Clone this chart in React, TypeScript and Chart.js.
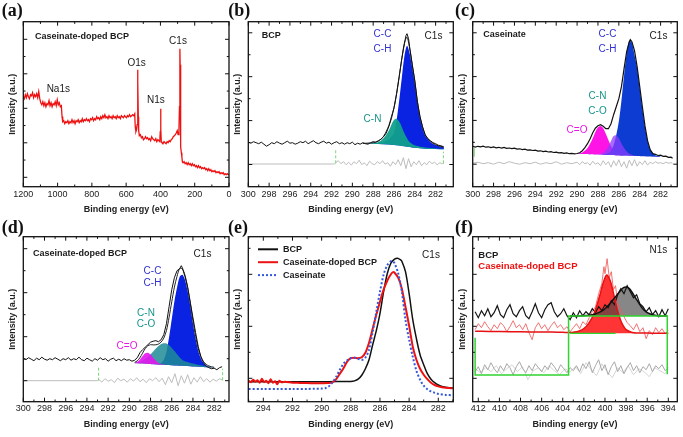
import React, { useEffect, useRef } from "react";
import { Chart, registerables } from "chart.js";

Chart.register(...registerables);

const SANS = "'Liberation Sans', Arial, Helvetica, sans-serif";
const SERIF = "'Liberation Serif', 'Times New Roman', serif";
Chart.defaults.font.family = SANS;

type Pt = [number, number];

// ---------------- (a) survey spectrum, caseinate-doped BCP ----------------
const surveyDoped: Pt[] = [
  [1200, 90], [1194, 88], [1188, 92], [1182, 89], [1176, 93], [1170, 90], [1164, 88], [1158, 92], [1152, 91], [1146, 94],
  [1140, 89], [1134, 92], [1128, 90], [1122, 93], [1116, 89], [1110, 95], [1104, 88], [1098, 84], [1092, 82], [1086, 85],
  [1080, 81], [1074, 84], [1068, 80], [1062, 83], [1056, 82], [1050, 86], [1044, 81], [1038, 84], [1032, 80], [1026, 83],
  [1020, 82], [1014, 85], [1008, 81], [1002, 87], [996, 82], [990, 84], [984, 80], [978, 81], [974, 70], [970, 65],
  [964, 66], [958, 63], [952, 65], [946, 64], [940, 66], [934, 63], [928, 65], [922, 64], [916, 67], [910, 64],
  [904, 66], [898, 63], [892, 66], [886, 65], [880, 67], [874, 64], [868, 66], [862, 65], [856, 68], [850, 65],
  [844, 67], [838, 66], [832, 68], [826, 66], [820, 67], [814, 65], [808, 68], [802, 67], [796, 69], [790, 66],
  [784, 68], [778, 67], [772, 70], [766, 68], [760, 69], [754, 67], [748, 70], [742, 68], [736, 71], [730, 69],
  [724, 72], [718, 69], [712, 70], [706, 68], [700, 71], [694, 69], [688, 70], [682, 68], [676, 71], [670, 69],
  [664, 70], [658, 68], [652, 71], [646, 69], [640, 70], [634, 68], [628, 71], [622, 70], [616, 69], [610, 71],
  [604, 70], [598, 69], [592, 71], [586, 70], [580, 72], [574, 70], [568, 71], [562, 72], [556, 71], [550, 73],
  [547, 60], [543, 55], [539, 57], [536, 62], [534, 80], [532, 117], [531, 105], [529, 70], [527, 56], [523, 51],
  [517, 52], [511, 49], [505, 50], [499, 47], [493, 48], [487, 50], [481, 48], [475, 49], [469, 47], [463, 48],
  [457, 46], [451, 50], [445, 48], [439, 47], [433, 46], [427, 48], [421, 45], [415, 47], [409, 46], [404, 45],
  [401, 55], [399, 78], [397, 58], [395, 45], [391, 44], [385, 43], [379, 45], [373, 44], [367, 43], [361, 45],
  [355, 44], [349, 46], [343, 45], [337, 47], [331, 48], [325, 50], [319, 51], [313, 52], [307, 54], [302, 56],
  [297, 52], [292, 57], [289, 80], [287, 125], [286, 138], [285, 122], [283, 70], [281, 40], [278, 34], [275, 30],
  [272, 25], [268, 24], [262, 25], [256, 23], [250, 24], [244, 22], [238, 24], [232, 22], [226, 23], [220, 21],
  [214, 23], [208, 21], [202, 22], [196, 20], [190, 21], [184, 19], [178, 21], [172, 19], [166, 20], [160, 18],
  [154, 19], [148, 18], [142, 19], [136, 17], [130, 18], [124, 16], [118, 18], [112, 16], [106, 17], [100, 15],
  [94, 16], [88, 15], [82, 16], [76, 14], [70, 15], [64, 14], [58, 15], [52, 13], [46, 14], [40, 13],
  [34, 14], [28, 12], [22, 13], [16, 12], [10, 13], [4, 12], [0, 12],
];

// ---------------- (b) C1s, BCP ----------------
const c1sBcpRaw: Pt[] = [
  [300, 44.5], [299.75, 43.5], [299.5, 45], [299.25, 44], [299, 43], [298.75, 44.5], [298.5, 42.5], [298.25, 40.5],
  [298, 42], [297.75, 44], [297.5, 43], [297.25, 45], [297, 43.5], [296.75, 42.5], [296.5, 44], [296.25, 45.5],
  [296, 43.5], [295.75, 44], [295.5, 42.5], [295.25, 43.5], [295, 45], [294.75, 44], [294.5, 45.5], [294.25, 43],
  [294, 44.5], [293.75, 46], [293.5, 44], [293.25, 43], [293, 44.5], [292.75, 45.5], [292.5, 43.5], [292.25, 44.5],
  [292, 42.5], [291.75, 44], [291.5, 45], [291.25, 43], [291, 44], [290.75, 42.5], [290.5, 44], [290.25, 43],
  [290, 44.5], [289.75, 42], [289.5, 43.5], [289.25, 42.5], [289, 44], [288.75, 43], [288.5, 42.5], [288.25, 44],
  [288, 45], [287.75, 44.5], [287.5, 46], [287.25, 47.5], [287, 50], [286.75, 53.5], [286.5, 60], [286.25, 68],
  [286, 79], [285.75, 93], [285.5, 110], [285.25, 128], [285, 143], [284.85, 151], [284.75, 153], [284.6, 148],
  [284.5, 140], [284.25, 122], [284, 106], [283.75, 85], [283.5, 70], [283.25, 60], [283, 52], [282.75, 48],
  [282.5, 46], [282.25, 44], [282, 43], [281.75, 41.5], [281.5, 41], [281.25, 40],
];
const c1sBcpResidual: Pt[] = [
  [300, 22.7], [291.7, 22.7], [291.6, 24], [291.35, 26], [291.1, 23], [290.85, 25], [290.6, 22], [290.35, 24.5],
  [290.1, 21.5], [289.85, 25], [289.6, 23], [289.35, 26.5], [289.1, 22], [288.85, 24], [288.6, 21], [288.35, 25.5],
  [288.1, 23], [287.85, 22], [287.6, 25], [287.35, 23], [287.1, 26], [286.85, 22.5], [286.6, 24], [286.35, 20.5],
  [286.1, 25], [285.85, 22], [285.6, 27], [285.35, 21], [285.1, 29], [284.85, 18], [284.6, 28], [284.35, 20],
  [284.1, 25], [283.85, 22], [283.6, 26], [283.35, 21], [283.1, 24], [282.85, 22], [282.6, 25.5], [282.35, 23],
  [282.1, 24.5], [281.85, 22], [281.6, 24], [281.35, 23], [281.2, 23.5],
];
const c1sBcpFitEnergy = [289, 288.5, 288, 287.5, 287, 286.5, 286.25, 286, 285.75, 285.5, 285.25, 285, 284.75, 284.5, 284.25, 284, 283.75, 283.5, 283.25, 283, 282.5, 282, 281.5, 281.2];
const c1sBcpBackground = [43, 43, 42.8, 42.6, 42.4, 42.1, 41.9, 41.7, 41.4, 41.1, 40.8, 40.4, 40, 39.6, 39.2, 38.9, 38.6, 38.4, 38.2, 38, 37.8, 37.6, 37.5, 37.5];
const c1sBcpCC = [43.1, 43.2, 43.3, 43.6, 44.4, 47.1, 50, 53.7, 66.4, 86.1, 108.8, 130.4, 141, 133.6, 119.2, 102.9, 83.6, 68.4, 58.2, 51, 44.8, 41.6, 40, 39.5];
const c1sBcpCN = [43.1, 43.3, 43.5, 44.6, 48.4, 56.1, 61.9, 66.7, 67.9, 65.1, 59.8, 53.4, 48.5, 44.6, 42.7, 41.4, 40.6, 40, 39.6, 39.2, 38.6, 38.2, 37.9, 37.8];
const c1sBcpEnvelope = [43.3, 43.6, 44, 45.6, 50.4, 61.1, 70, 78.7, 92.9, 110.1, 127.8, 143.4, 149.5, 138.6, 122.7, 105.4, 85.2, 69.9, 59.2, 51.7, 45.3, 41.9, 40.2, 39.7];

// ---------------- (c) C1s, caseinate ----------------
const c1sCasRaw: Pt[] = [
  [300, 40.5], [299.75, 39.6], [299.5, 40.4], [299.25, 39.8], [299, 40.6], [298.75, 39.5], [298.5, 39.9], [298.25, 39.1],
  [298, 39.8], [297.75, 38.9], [297.5, 39.4], [297.25, 38.6], [297, 39.3], [296.75, 38.4], [296.5, 38.7], [296.25, 38.1],
  [296, 38.5], [295.75, 37.6], [295.5, 37.9], [295.25, 37.1], [295, 37.5], [294.75, 36.6], [294.5, 36.9], [294.25, 36.2],
  [294, 36.5], [293.75, 35.6], [293.5, 35.9], [293.25, 35.1], [293, 35.5], [292.75, 34.7], [292.5, 35], [292.25, 34.2],
  [292, 34.6], [291.75, 33.8], [291.5, 34.1], [291.25, 33.4], [291, 33.8], [290.75, 33], [290.5, 33.4], [290.25, 32.8],
  [290, 33.2], [289.75, 34], [289.5, 36], [289.25, 39],
  [289, 43], [288.75, 48], [288.5, 54], [288.25, 58.5], [288, 61], [287.75, 62], [287.5, 60.5], [287.25, 58],
  [287, 58], [286.75, 63], [286.5, 72], [286.25, 80], [286, 88], [285.75, 100], [285.5, 118], [285.25, 135],
  [285, 145], [284.9, 147], [284.75, 145], [284.5, 136], [284.25, 120], [284, 100], [283.75, 80], [283.5, 61],
  [283.25, 46], [283, 37], [282.75, 33], [282.5, 32.4], [282.25, 31.2], [282, 31.6], [281.75, 30.3], [281.5, 30.6],
  [281.25, 29.3], [281, 29.5], [280.85, 28.5],
];
const c1sCasResidual: Pt[] = [
  [300, 23.5], [299.5, 24.5], [299, 23], [298.5, 24], [298, 22.5], [297.5, 24.5], [297, 23], [296.5, 25], [296, 23.5],
  [295.5, 22.5], [295, 24], [294.5, 23], [294, 24.5], [293.5, 22.5], [293, 24], [292.5, 23], [292, 25], [291.5, 22.5],
  [291, 24], [290.5, 23], [290, 24.5], [289.75, 22], [289.5, 25], [289.25, 23], [289, 24], [288.75, 21.5], [288.5, 25.5],
  [288.25, 22.5], [288, 24], [287.75, 21], [287.5, 26], [287.25, 22], [287, 25], [286.75, 19.5], [286.5, 26], [286.25, 21],
  [286, 27], [285.75, 20], [285.5, 25], [285.25, 18.5], [285, 26.5], [284.75, 21], [284.5, 27], [284.25, 20.5], [284, 25],
  [283.75, 22], [283.5, 26], [283.25, 21.5], [283, 24.5], [282.75, 23], [282.5, 25], [282.25, 23.5], [282, 24],
  [281.75, 23], [281.5, 24.5], [281.25, 23.5], [281, 24], [280.85, 23.5],
];
const c1sCasFitEnergy = [290, 289.5, 289, 288.5, 288.25, 288, 287.75, 287.5, 287.25, 287, 286.75, 286.5, 286.25, 286, 285.75, 285.5, 285.25, 285, 284.75, 284.5, 284.25, 284, 283.75, 283.5, 283.25, 283, 282.5, 282];
const c1sCasBackground = [33, 32.8, 32.6, 32.4, 32.3, 32.2, 32.1, 32, 31.9, 31.8, 31.7, 31.6, 31.5, 31.4, 31.3, 31.2, 31.1, 31, 30.9, 30.8, 30.7, 30.6, 30.5, 30.4, 30.3, 30.2, 30, 29.8];
const c1sCasCO = [33.3, 34.3, 38.6, 48.4, 54.8, 59.2, 60.6, 58.5, 52.9, 46.8, 40.7, 36.6, 34, 32.6, 31.8, 31.4, 31.1, 31, 30.9, 30.8, 30.7, 30.6, 30.5, 30.4, 30.3, 30.2, 30, 29.8];
const c1sCasCN = [33, 32.8, 32.6, 32.4, 32.4, 32.5, 32.9, 34, 36.4, 40.3, 45.7, 50.6, 51.5, 48.4, 43.3, 38.7, 35.1, 33, 31.9, 31.2, 30.7, 30.6, 30.5, 30.4, 30.3, 30.2, 30, 29.8];
const c1sCasCC = [33, 32.8, 32.6, 32.4, 32.3, 32.3, 32.2, 32.3, 32.7, 33.8, 35.7, 41.6, 51.5, 65.4, 86.3, 111.2, 133.1, 146, 144, 131.8, 118.7, 98.6, 78.5, 60.4, 46.3, 37.2, 31.5, 30.3];

// ---------------- (d) C1s, caseinate-doped BCP ----------------
const c1sDopRaw: Pt[] = [
  [300, 43], [299.75, 42], [299.5, 44], [299.25, 42.5], [299, 41], [298.75, 43.5], [298.5, 42], [298.25, 44.5],
  [298, 42.5], [297.75, 41.5], [297.5, 43], [297.25, 42], [297, 44], [296.75, 42.5], [296.5, 41], [296.25, 43],
  [296, 42], [295.75, 44], [295.5, 41.5], [295.25, 43], [295, 42], [294.75, 44.5], [294.5, 42], [294.25, 41],
  [294, 43.5], [293.75, 42], [293.5, 40.5], [293.25, 43], [293, 41.5], [292.75, 44], [292.5, 42], [292.25, 43],
  [292, 40.5], [291.75, 42.5], [291.5, 43.5], [291.25, 41], [291, 42.5], [290.75, 41], [290.5, 43], [290.25, 41.5],
  [290, 42], [289.75, 40.5], [289.5, 41.5], [289.25, 44], [289, 49], [288.75, 52], [288.5, 54.5], [288.25, 57],
  [288, 59.5], [287.75, 60.5], [287.5, 61], [287.25, 60], [287, 62], [286.75, 67], [286.5, 78], [286.25, 95],
  [286, 112], [285.75, 124], [285.5, 131], [285.25, 133], [285.1, 136], [285, 134], [284.75, 125], [284.5, 114],
  [284.25, 99], [284, 84], [283.75, 69], [283.5, 55], [283.25, 45], [283, 39], [282.75, 35.5], [282.5, 34],
  [282.25, 33], [282, 33.5], [281.75, 32], [281.5, 34], [281.25, 35],
];
const c1sDopResidual: Pt[] = [
  [300, 21], [293, 21], [292.9, 22.5], [292.6, 19.5], [292.3, 23], [292, 20.5], [291.7, 22], [291.4, 19], [291.1, 23.5],
  [290.8, 21], [290.5, 22.5], [290.2, 19.5], [289.9, 23], [289.6, 20.5], [289.3, 24], [289, 20], [288.7, 22.5], [288.4, 19],
  [288.1, 23], [287.8, 21], [287.5, 24], [287.2, 20], [286.9, 23.5], [286.6, 17], [286.3, 25], [286, 19], [285.7, 28],
  [285.4, 16], [285.1, 26], [284.8, 18.5], [284.5, 27], [284.2, 17.5], [283.9, 24], [283.6, 19.5], [283.3, 25], [283, 20],
  [282.7, 23], [282.4, 19.5], [282.1, 22.5], [281.8, 20.5], [281.5, 23], [281.2, 21.5],
];
const c1sDopFitEnergy = [289.5, 289.25, 289, 288.75, 288.5, 288.25, 288, 287.75, 287.5, 287.25, 287, 286.75, 286.5, 286.25, 286, 285.75, 285.5, 285.25, 285, 284.75, 284.5, 284.25, 284, 283.75, 283.5, 283.25, 283, 282.75, 282.5, 282.25, 282];
const c1sDopBackground = [38.5, 38.4, 38.2, 38.1, 38, 37.8, 37.7, 37.5, 37.4, 37.2, 37.1, 36.9, 36.8, 36.6, 36.5, 36.3, 36.2, 36, 35.9, 35.7, 35.6, 35.4, 35.3, 35.1, 35, 34.8, 34.7, 34.5, 34.4, 34.2, 34.1];
const c1sDopCO = [38.8, 39.9, 42.2, 45.6, 48.5, 49, 47.2, 44, 40.9, 38.7, 37.7, 37.1, 36.8, 36.6, 36.5, 36.3, 36.2, 36, 35.9, 35.7, 35.6, 35.4, 35.3, 35.1, 35, 34.8, 34.7, 34.5, 34.4, 34.2, 34.1];
const c1sDopCN = [39, 39.4, 40, 41.1, 42.7, 44.8, 47.5, 50.3, 53.2, 55.7, 57.6, 58.4, 58.1, 56.4, 53.8, 50.6, 47.4, 44.3, 41.8, 40.5, 39.6, 38.7, 38.1, 37.4, 37, 36.4, 36, 35.5, 35.1, 34.7, 34.4];
const c1sDopCC = [38.5, 38.4, 38.2, 38.1, 38, 37.8, 37.7, 37.5, 37.6, 37.7, 38.6, 41.9, 49.8, 64.6, 82.5, 100.3, 114.2, 125, 126.9, 121.7, 110.6, 95.4, 78.3, 63.1, 51, 43.3, 38.7, 36.3, 35.1, 34.4, 34.1];
const c1sDopEnvelope = [39.3, 40.9, 44, 48.6, 53.2, 56, 57, 56.8, 56.9, 57.7, 59.7, 63.6, 71.1, 84.4, 99.8, 114.6, 125.4, 133.3, 132.8, 126.5, 114.6, 98.7, 81.1, 65.4, 53, 44.9, 40, 37.3, 35.8, 34.9, 34.4];

// ---------------- (e) C1s comparison ----------------
const c1sCompareBcp: Pt[] = [
  [295, 20], [294, 20], [293, 20], [292, 20], [291, 20], [290, 20], [289, 20.1], [288.5, 20.1], [288, 20.2],
  [287.75, 20.8], [287.5, 22.5], [287.25, 26.5], [287, 33], [286.75, 42], [286.5, 57], [286.25, 71], [286, 88],
  [285.75, 110], [285.5, 128], [285.25, 138.5], [285, 142.5], [284.8, 143.5], [284.6, 142], [284.5, 140.5],
  [284.25, 130], [284, 108], [283.75, 82], [283.5, 63], [283.25, 47], [283, 37], [282.75, 28], [282.5, 22.5],
  [282.25, 19], [282, 16.7], [281.75, 15.3], [281.5, 14.5], [281.25, 13.9], [281, 13.5],
];
const c1sCompareDoped: Pt[] = [
  [295, 21], [294.85, 19.5], [294.7, 22], [294.55, 20], [294.4, 21.5], [294.25, 19], [294.1, 23], [293.95, 19.5],
  [293.8, 21], [293.65, 18.5], [293.5, 22.5], [293.35, 19], [293.2, 20.5], [293.05, 17.5], [292.9, 21], [292.75, 19.5],
  [292.5, 20], [292, 19], [291.5, 18.8], [291, 18.6], [290.5, 18.5], [290, 18.5], [289.5, 18.6], [289.3, 19],
  [289, 22.5], [288.75, 28], [288.5, 33.5], [288.25, 40], [288, 43.5], [287.75, 44], [287.5, 43.5], [287.25, 44.5],
  [287, 49], [286.75, 59], [286.5, 73], [286.25, 87], [286, 100], [285.75, 112], [285.5, 121], [285.25, 127.5],
  [285.1, 129.5], [285, 129], [284.75, 124], [284.5, 113], [284.25, 95], [284, 76], [283.75, 55], [283.5, 42],
  [283.25, 33], [283, 27], [282.75, 22.5], [282.5, 19], [282.25, 16.7], [282, 15.3], [281.75, 14.5], [281.5, 14],
  [281.25, 13.7], [281, 13.4],
];
const c1sCompareCaseinate: Pt[] = [
  [295, 12.7], [294, 12.7], [293, 12.7], [292, 12.7], [291, 12.8], [290.5, 12.9], [290, 13.1], [289.75, 13.5],
  [289.5, 15.5], [289.25, 19.5], [289, 25], [288.75, 32], [288.5, 38], [288.25, 41.5], [288, 43.5], [287.75, 44],
  [287.5, 43], [287.25, 41.7], [287, 44], [286.75, 52], [286.5, 70], [286.25, 90], [286, 110], [285.75, 127],
  [285.5, 136.5], [285.25, 140.5], [285.1, 140], [285, 138.5], [284.75, 128.4], [284.5, 110], [284.25, 82], [284, 62],
  [283.75, 45], [283.5, 31], [283.25, 22], [283, 16], [282.75, 12.5], [282.5, 10.3], [282.25, 9], [282, 7.8],
  [281.5, 6.8], [281, 6.5],
];

// ---------------- (f) N1s ----------------
const n1sBcpRaw: Pt[] = [
  [412.3, 90], [412, 84], [411.7, 91], [411.4, 86], [411.1, 93], [410.8, 85], [410.5, 89], [410.2, 96], [409.9, 87],
  [409.6, 84], [409.3, 92], [409, 97], [408.7, 88], [408.4, 85], [408.1, 91], [407.8, 95], [407.5, 86], [407.2, 83],
  [406.9, 90], [406.6, 98], [406.3, 89], [406, 84], [405.7, 92], [405.4, 97], [405.1, 99], [404.8, 90], [404.5, 85],
  [404.2, 88], [403.9, 93], [403.6, 86], [403.3, 82], [403, 89], [402.7, 84], [402.4, 91], [402.1, 86], [401.8, 90],
  [401.5, 87], [401.2, 93], [400.9, 89], [400.6, 95], [400.3, 91], [400, 97], [399.7, 94], [399.4, 101], [399.1, 97],
  [398.8, 107], [398.5, 113], [398.2, 108], [397.9, 116], [397.6, 110], [397.3, 104], [397, 107], [396.7, 98],
  [396.4, 95], [396.1, 90], [395.8, 94], [395.5, 87], [395.2, 91], [394.9, 85], [394.6, 92], [394.3, 86], [394, 93],
];
const n1sDopedRaw: Pt[] = [
  [412.3, 72], [412, 78], [411.7, 74], [411.4, 80], [411.1, 75], [410.8, 71], [410.5, 77], [410.2, 73], [409.9, 79],
  [409.6, 76], [409.3, 70], [409, 75], [408.7, 81], [408.4, 74], [408.1, 77], [407.8, 72], [407.5, 78], [407.2, 69],
  [406.9, 62], [406.6, 74], [406.3, 79], [406, 73], [405.7, 77], [405.4, 71], [405.1, 76], [404.8, 80], [404.5, 74],
  [404.2, 77], [403.9, 72], [403.6, 75], [403.3, 70], [403, 74], [402.7, 78], [402.4, 73], [402.1, 80], [401.8, 77],
  [401.5, 84], [401.2, 90], [400.9, 95], [400.6, 108], [400.3, 118], [400.1, 135], [400, 128], [399.8, 143],
  [399.6, 124], [399.4, 130], [399.2, 112], [399, 116], [398.8, 98], [398.5, 92], [398.2, 85], [397.9, 79],
  [397.6, 76], [397.3, 72], [397, 78], [396.7, 70], [396.4, 74], [396.1, 63], [395.8, 71], [395.5, 67], [395.2, 74],
  [394.9, 69], [394.6, 73], [394.3, 68], [394, 71],
];
const n1sBcpFit: Pt[] = [
  [403.3, 85.7], [402, 86], [401.5, 86.5], [401, 87.5], [400.5, 89.5], [400, 93], [399.5, 98.5], [399, 105],
  [398.5, 111.5], [398.25, 114], [398, 114.8], [397.75, 113.5], [397.5, 110.5], [397, 102], [396.5, 94], [396, 89],
  [395.5, 87], [395, 86], [394.5, 85.7], [394.1, 85.7],
];
const n1sDopedFit: Pt[] = [
  [412.3, 70.5], [411, 70.2], [409, 70], [407, 69.8], [405, 69.6], [404, 69.4], [403.3, 69.2], [403, 69.5],
  [402.5, 70.5], [402, 73], [401.5, 79], [401, 89], [400.75, 97], [400.5, 106], [400.25, 116], [400, 124],
  [399.85, 126.7], [399.75, 126], [399.5, 121], [399.25, 111], [399, 99], [398.75, 89], [398.5, 81], [398.25, 75.5],
  [398, 72], [397.5, 69.5], [397, 68.8], [396, 68.6], [395, 68.5], [394, 68.4],
];
const n1sResidualBcp: Pt[] = [
  [412.3, 30], [412, 35], [411.7, 28], [411.4, 37], [411.1, 32], [410.8, 39], [410.5, 33], [410.2, 29], [409.9, 36],
  [409.6, 31], [409.3, 38], [409, 34], [408.7, 27], [408.4, 35], [408.1, 40], [407.8, 33], [407.5, 29], [407.2, 36],
  [406.9, 31], [406.6, 38], [406.3, 34], [406, 30], [405.7, 36], [405.4, 32], [405.1, 39], [404.8, 35], [404.5, 30],
  [404.2, 37], [403.9, 33], [403.6, 29], [403.3, 34], [403, 31], [402.7, 36], [402.4, 30], [402.1, 38], [401.8, 33],
  [401.5, 40], [401.2, 29], [400.9, 36], [400.6, 42], [400.3, 31], [400, 37], [399.7, 27], [399.4, 35], [399.1, 40],
  [398.8, 30], [398.5, 36], [398.2, 28], [397.9, 34], [397.6, 39], [397.3, 31], [397, 36], [396.7, 29], [396.4, 35],
  [396.1, 32], [395.8, 38], [395.5, 30], [395.2, 36], [394.9, 33], [394.6, 37], [394.3, 31], [394, 34],
];
const n1sResidualDoped: Pt[] = [
  [412.3, 33], [411.8, 29], [411.3, 34], [410.8, 30], [410.3, 36], [409.8, 28], [409.3, 33], [408.8, 37], [408.3, 30],
  [407.8, 35], [407.3, 22], [406.8, 31], [406.3, 34], [405.8, 29], [405.3, 36], [404.8, 31], [404.3, 27], [403.8, 33],
  [403.3, 30], [402.8, 35], [402.3, 28], [401.8, 39], [401.3, 32], [400.8, 26], [400.3, 38], [399.8, 30], [399.3, 24],
  [398.8, 34], [398.3, 29], [397.8, 36], [397.3, 27], [396.8, 33], [396.3, 30], [395.8, 25], [395.3, 34], [394.8, 31],
  [394.3, 28], [394, 32],
];
const n1sBackgroundSteps: Pt[] = [
  [412.3, 64], [412.3, 26.7], [403.45, 26.7], [403.45, 85.7], [394.1, 85.7], [394.1, 27.5],
];
const n1sDopedBase: Pt[] = [[403.3, 68.4], [399, 68.4]];

// ---------------- helpers ----------------
const xy = (pts: Pt[]) => pts.map(([x, y]) => ({ x, y }));
const zipXY = (xs: number[], ys: number[]) => xs.map((x, i) => ({ x, y: ys[i] }));

const line = (data: any[], color: string, width: number, extra: any = {}) => ({
  data, borderColor: color, borderWidth: width, pointRadius: 0, fill: false, tension: 0, ...extra,
});
const area = (data: any[], color: string, fill: any) => ({
  data, borderColor: "transparent", borderWidth: 0, backgroundColor: color, pointRadius: 0, fill, tension: 0.3,
});

interface Label {
  text: string; dx: number; dy: number; color?: string; bold?: boolean; size?: number; align?: CanvasTextAlign;
}
interface LegendItem { text: string; color: string; width: number; dash?: number[] }
interface Panel {
  key: string; letter: string; left: number; top: number; w: number; h: number;
  areaLeft: number; areaRight: number;
  xMin: number; xMax: number; xMajor: number; xMinor: number;
  yStart: number; yStep: number;
  tickPad: number; titlePad: number; letterX: number; letterY: number;
  labels: Label[]; legend?: LegendItem[];
  datasets: any[];
}

const CC_BLUE = "#3131cf";
const CN_TEAL = "#17948a";
const CO_MAGENTA = "#e21ce0";
const RESIDUAL = "#bdbdbd";
const MARKER = "#78d878";

// first entry is painted first (bottom), last entry on top
const dsInOrder = (list: any[]) => list.map((d, i) => ({ ...d, order: list.length - i }));

const panels: Panel[] = [
  {
    key: "a", letter: "(a)", left: 0, top: 0, w: 238, h: 217, areaLeft: 23.3, areaRight: 229,
    xMin: 0, xMax: 1200, xMajor: 200, xMinor: 100, yStart: 9.4, yStep: 17.25,
    tickPad: 2, titlePad: 2.3, letterX: 1.7, letterY: 11.7,
    labels: [
      { text: "Caseinate-doped BCP", dx: 11.7, dy: 15, bold: true, size: 9, align: "left" },
      { text: "Na1s", dx: 35, dy: 67.3 },
      { text: "O1s", dx: 113.4, dy: 41.6 },
      { text: "N1s", dx: 132.5, dy: 78.3 },
      { text: "C1s", dx: 154.7, dy: 20 },
    ],
    datasets: dsInOrder([line(xy(surveyDoped), "#ee1111", 1.3)]),
  },
  {
    key: "b", letter: "(b)", left: 225, top: 0, w: 238, h: 217, areaLeft: 23.3, areaRight: 228.3,
    xMin: 280.3, xMax: 300, xMajor: 2, xMinor: 1, yStart: 22.2, yStep: 21.95,
    tickPad: 2, titlePad: 2.3, letterX: 3.3, letterY: 11.7,
    labels: [
      { text: "BCP", dx: 13.4, dy: 14.3, bold: true, size: 9, align: "left" },
      { text: "C1s", dx: 185.2, dy: 14.3 },
      { text: "C-C", dx: 134.2, dy: 12.6, color: CC_BLUE },
      { text: "C-H", dx: 134.2, dy: 27.6, color: CC_BLUE },
      { text: "C-N", dx: 124.2, dy: 97.6, color: CN_TEAL },
    ],
    datasets: dsInOrder([
      line(xy(c1sBcpResidual), RESIDUAL, 1),
      line(xy([[291.6, 23.4], [291.6, 38.4]]), MARKER, 1, { borderDash: [3, 2] }),
      line(xy([[281.25, 23.4], [281.25, 35]]), MARKER, 1, { borderDash: [3, 2] }),
      line(zipXY(c1sBcpFitEnergy, c1sBcpBackground), "transparent", 0),
      area(zipXY(c1sBcpFitEnergy, c1sBcpCC), "#0a22e2", 3),
      area(zipXY(c1sBcpFitEnergy, c1sBcpCN), "rgba(16,160,140,0.95)", 3),
      line(zipXY(c1sBcpFitEnergy, c1sBcpEnvelope), "#222", 1, { tension: 0.3 }),
      line(xy(c1sBcpRaw), "#111", 1),
    ]),
  },
  {
    key: "c", letter: "(c)", left: 450, top: 0, w: 233, h: 217, areaLeft: 22.7, areaRight: 227.3,
    xMin: 280.4, xMax: 300, xMajor: 2, xMinor: 1, yStart: 22.5, yStep: 21.9,
    tickPad: 2, titlePad: 2.3, letterX: 5, letterY: 11.7,
    labels: [
      { text: "Caseinate", dx: 10.6, dy: 12.6, bold: true, size: 9, align: "left" },
      { text: "C1s", dx: 185.8, dy: 14.3 },
      { text: "C-C", dx: 134.8, dy: 12.6, color: CC_BLUE },
      { text: "C-H", dx: 134.8, dy: 27.6, color: CC_BLUE },
      { text: "C-N", dx: 124.8, dy: 74.3, color: CN_TEAL },
      { text: "C-O", dx: 124.8, dy: 89.3, color: CN_TEAL },
      { text: "C=O", dx: 104.3, dy: 108.3, color: CO_MAGENTA },
    ],
    datasets: dsInOrder([
      line(xy(c1sCasResidual), RESIDUAL, 1),
      line(xy([[299.85, 30], [299.85, 38.5]]), MARKER, 1),
      line(zipXY(c1sCasFitEnergy, c1sCasBackground), "transparent", 0),
      area(zipXY(c1sCasFitEnergy, c1sCasCO), "#ff14e6", 2),
      area(zipXY(c1sCasFitEnergy, c1sCasCC), "#0c3cd2", 2),
      area(zipXY(c1sCasFitEnergy, c1sCasCN), "rgba(140,60,255,0.75)", 2),
      line(xy(c1sCasRaw), "#111", 1.2),
    ]),
  },
  {
    key: "d", letter: "(d)", left: 0, top: 215, w: 238, h: 222, areaLeft: 23.3, areaRight: 229,
    xMin: 280.6, xMax: 300, xMajor: 2, xMinor: 1, yStart: 21, yStep: 22,
    tickPad: 1.5, titlePad: 6.6, letterX: 1.7, letterY: 13,
    labels: [
      { text: "Caseinate-doped BCP", dx: 9.7, dy: 16.6, bold: true, size: 9, align: "left" },
      { text: "C1s", dx: 179.2, dy: 17.3 },
      { text: "C-C", dx: 129.2, dy: 35, color: CC_BLUE },
      { text: "C-H", dx: 129.2, dy: 46.6, color: CC_BLUE },
      { text: "C-N", dx: 122.7, dy: 76.6, color: CN_TEAL },
      { text: "C-O", dx: 122.7, dy: 87.6, color: CN_TEAL },
      { text: "C=O", dx: 103.7, dy: 109.3, color: CO_MAGENTA },
    ],
    datasets: dsInOrder([
      line(xy(c1sDopResidual), RESIDUAL, 1),
      line(xy([[292.9, 21], [292.9, 35]]), MARKER, 1, { borderDash: [3, 2] }),
      line(xy([[281.2, 21.5], [281.2, 33]]), MARKER, 1, { borderDash: [3, 2] }),
      line(zipXY(c1sDopFitEnergy, c1sDopBackground), "transparent", 0),
      area(zipXY(c1sDopFitEnergy, c1sDopCC), "#0a22e2", 3),
      area(zipXY(c1sDopFitEnergy, c1sDopCN), "rgba(30,140,150,0.85)", 3),
      area(zipXY(c1sDopFitEnergy, c1sDopCO), "rgba(228,20,240,0.9)", 3),
      line(zipXY(c1sDopFitEnergy, c1sDopEnvelope), "#222", 1, { tension: 0.3 }),
      line(xy(c1sDopRaw), "#111", 1),
    ]),
  },
  {
    key: "e", letter: "(e)", left: 225, top: 215, w: 238, h: 222, areaLeft: 23.3, areaRight: 228.3,
    xMin: 280.97, xMax: 295.03, xMajor: 2, xMinor: 1, yStart: 23.4, yStep: 26,
    tickPad: 1.5, titlePad: 6.6, letterX: 3, letterY: 13,
    labels: [{ text: "C1s", dx: 182.7, dy: 19 }],
    legend: [
      { text: "BCP", color: "#111", width: 2 },
      { text: "Caseinate-doped BCP", color: "#ee1111", width: 2 },
      { text: "Caseinate", color: "#3358e0", width: 2, dash: [2, 2] },
    ],
    datasets: dsInOrder([
      line(xy(c1sCompareBcp), "#111", 1.5, { tension: 0.3 }),
      line(xy(c1sCompareDoped), "#ee1111", 2, { tension: 0.2 }),
      line(xy(c1sCompareCaseinate), "#3358e0", 2, { tension: 0.3, borderDash: [2, 2] }),
    ]),
  },
  {
    key: "f", letter: "(f)", left: 450, top: 215, w: 233, h: 222, areaLeft: 22.7, areaRight: 227.3,
    xMin: 393.15, xMax: 412.53, xMajor: 2, xMinor: 1, yStart: 23.4, yStep: 26,
    tickPad: 1.5, titlePad: 6.6, letterX: 5, letterY: 13,
    labels: [
      { text: "BCP", dx: 5.6, dy: 18.3, bold: true, size: 9.5, align: "left" },
      { text: "Caseinate-doped BCP", dx: 5.6, dy: 30, bold: true, size: 9.5, align: "left", color: "#ee1111" },
      { text: "N1s", dx: 185.6, dy: 13.3 },
    ],
    datasets: dsInOrder([
      line(xy(n1sResidualDoped), "#d6d6d6", 1),
      line(xy(n1sResidualBcp), "#a8a8a8", 1),
      area(xy(n1sDopedFit.filter(([e]) => e <= 403.3 && e >= 396.5)), "rgba(255,25,25,0.88)", { value: 68.4 }),
      area(xy(n1sBcpFit), "rgba(70,70,70,0.65)", { value: 85.7 }),
      line(xy(n1sDopedRaw), "rgba(238,90,90,0.85)", 1),
      line(xy(n1sBcpRaw), "#151515", 1.2),
      line(xy(n1sDopedFit), "#e81010", 1.5, { tension: 0.3 }),
      line(xy(n1sBcpFit), "#111", 1.5, { tension: 0.3 }),
      line(xy(n1sDopedBase), "#2fd52f", 1.2),
      line(xy(n1sBackgroundSteps), "#2fd52f", 1.5),
    ]),
  },
];

// Frame, inward ticks, panel letter, labels and legend drawn on top of the plot
function decorPlugin(p: Panel) {
  return {
    id: "decor-" + p.key,
    afterDraw(chart: any) {
      const { ctx, chartArea: a, scales } = chart;
      const xs = scales.x;
      const ys = scales.y;
      ctx.save();
      ctx.strokeStyle = "#111";
      ctx.lineWidth = 1;
      ctx.beginPath();
      const first = Math.ceil(p.xMin / p.xMinor) * p.xMinor;
      for (let v = first; v <= p.xMax + 1e-6; v += p.xMinor) {
        const px = xs.getPixelForValue(v);
        const r = v / p.xMajor;
        const len = Math.abs(r - Math.round(r)) < 1e-6 ? 4 : 2.2;
        ctx.moveTo(px, a.bottom); ctx.lineTo(px, a.bottom - len);
        ctx.moveTo(px, a.top); ctx.lineTo(px, a.top + len);
      }
      let k = 0;
      for (let v = p.yStart; v < ys.max - 2; v += p.yStep, k++) {
        const py = ys.getPixelForValue(v);
        const len = k % 2 === 0 ? 4 : 2.2;
        ctx.moveTo(a.left, py); ctx.lineTo(a.left + len, py);
        ctx.moveTo(a.right, py); ctx.lineTo(a.right - len, py);
      }
      ctx.stroke();
      ctx.lineWidth = 1.3;
      ctx.strokeRect(a.left, a.top, a.right - a.left, a.bottom - a.top);

      ctx.fillStyle = "#111";
      ctx.font = `bold 18px ${SERIF}`;
      ctx.textAlign = "left";
      ctx.textBaseline = "middle";
      ctx.fillText(p.letter, p.letterX, p.letterY);

      for (const l of p.labels) {
        ctx.font = `${l.bold ? "bold " : ""}${l.size ?? 10}px ${SANS}`;
        ctx.fillStyle = l.color ?? "#1a1a1a";
        ctx.textAlign = l.align ?? "center";
        ctx.fillText(l.text, a.left + l.dx, a.top + l.dy);
      }

      if (p.legend) {
        p.legend.forEach((item, i) => {
          const y = a.top + 12.6 + i * 12.9;
          ctx.beginPath();
          ctx.strokeStyle = item.color;
          ctx.lineWidth = item.width;
          ctx.setLineDash(item.dash ?? []);
          ctx.moveTo(a.left + 9.7, y);
          ctx.lineTo(a.left + 29.7, y);
          ctx.stroke();
          ctx.setLineDash([]);
          ctx.font = `bold 9px ${SANS}`;
          ctx.fillStyle = "#1a1a1a";
          ctx.textAlign = "left";
          ctx.fillText(item.text, a.left + 34.7, y);
        });
      }
      ctx.restore();
    },
  };
}

function buildConfig(p: Panel): any {
  const xAxisH = p.h - 186.7;
  return {
    type: "line",
    data: { datasets: p.datasets },
    plugins: [decorPlugin(p)],
    options: {
      responsive: false,
      maintainAspectRatio: false,
      animation: false,
      events: [],
      layout: { padding: { left: 0, top: 21.7, right: p.w - p.areaRight, bottom: 0 } },
      elements: { point: { radius: 0 } },
      plugins: { legend: { display: false }, tooltip: { enabled: false } },
      scales: {
        x: {
          type: "linear",
          reverse: true,
          min: p.xMin,
          max: p.xMax,
          afterFit: (s: any) => { s.height = xAxisH; },
          grid: { display: false, drawTicks: false },
          border: { display: false },
          ticks: {
            stepSize: p.xMajor,
            maxTicksLimit: 40,
            includeBounds: false,
            autoSkip: false,
            maxRotation: 0,
            padding: p.tickPad,
            color: "#222",
            font: { size: 9, family: SANS },
            callback: (v: number) => String(v),
          },
          title: {
            display: true,
            text: "Binding energy (eV)",
            color: "#222",
            font: { size: 9, weight: "bold", family: SANS },
            padding: { top: 0, bottom: p.titlePad },
          },
        },
        y: {
          type: "linear",
          min: 0,
          max: 165,
          afterFit: (s: any) => { s.width = p.areaLeft; },
          grid: { display: false, drawTicks: false },
          border: { display: false },
          ticks: { display: false },
          title: {
            display: true,
            text: "Intensity (a.u.)",
            color: "#222",
            font: { size: 9, weight: "bold", family: SANS },
            padding: { top: 7.1, bottom: 0 },
          },
        },
      },
    },
  };
}

function PanelChart({ panel }: { panel: Panel }) {
  const ref = useRef<HTMLCanvasElement>(null);
  useEffect(() => {
    if (!ref.current) return;
    const chart = new Chart(ref.current, buildConfig(panel));
    return () => chart.destroy();
  }, [panel]);
  return (
    <canvas
      ref={ref}
      width={panel.w}
      height={panel.h}
      style={{ position: "absolute", left: panel.left, top: panel.top, width: panel.w, height: panel.h }}
    />
  );
}

export default function App() {
  return (
    <div style={{ position: "fixed", left: 0, top: 0, width: 683, height: 437, background: "#fff", overflow: "hidden" }}>
      {panels.map((p) => (
        <PanelChart key={p.key} panel={p} />
      ))}
    </div>
  );
}
